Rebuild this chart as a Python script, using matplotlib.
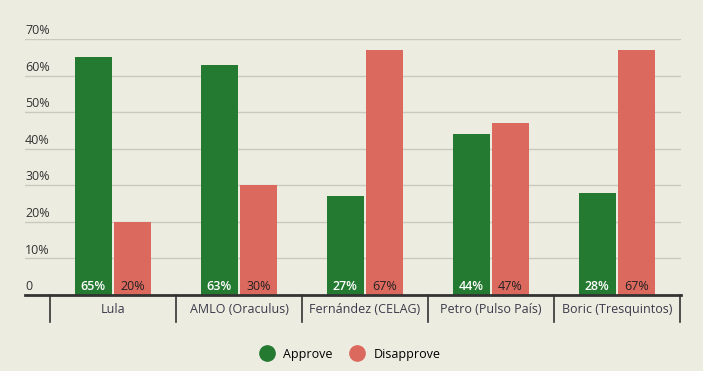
import numpy as np
import matplotlib.pyplot as plt
import matplotlib.transforms as mtransforms
from matplotlib.lines import Line2D

categories = ["Lula", "AMLO (Oraculus)", "Fernández (CELAG)", "Petro (Pulso País)", "Boric (Tresquintos)"]
approve = [65, 63, 27, 44, 28]
disapprove = [20, 30, 67, 47, 67]
yticks = [0, 10, 20, 30, 40, 50, 60, 70]
ytick_labels = ["0", "10%", "20%", "30%", "40%", "50%", "60%", "70%"]

bg = "#edece1"
green = "#237a30"
red = "#dc695e"

plt.rcParams['font.family'] = ['Open Sans', 'DejaVu Sans']

fig = plt.figure(figsize=(7.03, 3.71), dpi=100, facecolor=bg)
ax = fig.add_axes([25/703, 76/371, 656/703, 256/371], facecolor=bg)

x = np.arange(len(categories))
w = 0.295
ax.bar(x - 0.157, approve, w, color=green, zorder=3)
ax.bar(x + 0.155, disapprove, w, color=red, zorder=3)

for i in range(len(categories)):
    ax.text(x[i] - 0.157, 0.6, f"{approve[i]}%", ha="center", va="bottom",
            color="white", fontsize=9, fontweight="semibold", zorder=4)
    ax.text(x[i] + 0.155, 0.6, f"{disapprove[i]}%", ha="center", va="bottom",
            color="#222222", fontsize=9, zorder=4)

ax.set_xlim(-0.698, 4.508)
ax.set_ylim(0, 70)

# grid lines and y labels
for t, lab in zip(yticks, ytick_labels):
    if t > 0:
        ax.axhline(t, color="#c9c9bd", lw=1, zorder=1)
    ax.text(0, t + 0.5, lab, transform=mtransforms.blended_transform_factory(ax.transAxes, ax.transData),
            ha="left", va="bottom", fontsize=9, color="#333333")

for s in ax.spines.values():
    s.set_visible(False)
ax.axhline(0, color="#333333", lw=2, zorder=5, clip_on=False)
ax.set_xticks([])
ax.set_yticks([])

# category separators and labels
trans = mtransforms.blended_transform_factory(ax.transData, ax.transAxes)
for b in np.arange(-0.5, 5, 1.0):
    ax.plot([b, b], [0, -0.104], transform=trans, color="#333333", lw=1.2, clip_on=False)
for i, c in enumerate(categories):
    ax.text(x[i], -0.058, c, transform=trans, ha="center", va="center", fontsize=9, color="#3a3a4a")

handles = [Line2D([], [], marker="o", ls="", color=green, markersize=11),
           Line2D([], [], marker="o", ls="", color=red, markersize=11)]
fig.legend(handles, ["Approve", "Disapprove"], loc="center", bbox_to_anchor=(0.494, 0.045),
           ncol=2, frameon=False, fontsize=9, handletextpad=0.3, columnspacing=1.0)

fig.savefig("out.png", dpi=100, facecolor=bg)
